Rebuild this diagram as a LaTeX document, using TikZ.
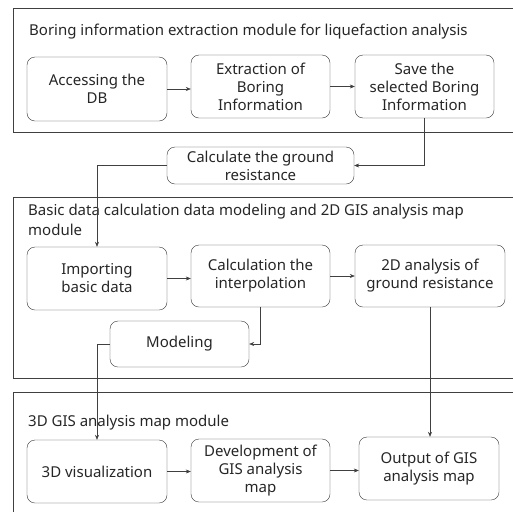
\documentclass[tikz,border=0pt]{standalone}
\usepackage{fontspec}
\setmainfont{Noto Sans}
\usetikzlibrary{arrows.meta}

\begin{document}
\begin{tikzpicture}[x=1pt, y=-1pt,
    stagebox/.style={draw=black!80, rounded corners=8pt, align=center, inner sep=1pt,
        font=\fontsize{15}{18}\selectfont, text=black!85},
    frameline/.style={draw=black!75, line width=0.6pt},
    flow/.style={draw=black!75, line width=0.5pt, -{Stealth[length=5pt, width=4pt]}}]

    \useasboundingbox (0,0) rectangle (513,512);

    % Module frames
    \draw[frameline] (513,8) -- (13,8) -- (13,132) -- (513,132);
    \draw[frameline] (513,197) -- (13,197) -- (13,378) -- (513,378);
    \draw[frameline] (513,392) -- (13,392) -- (13,512);

    % Module titles
    \node[anchor=west, inner sep=0pt, font=\fontsize{15}{18}\selectfont, text=black!85] (t1) at (29,32)
        {Boring information extraction module for liquefaction analysis};
    \node[anchor=north west, inner sep=0pt, align=left, font=\fontsize{15}{20}\selectfont, text=black!85] (t2) at (28,204)
        {Basic data calculation data modeling and 2D GIS analysis map\\module};
    \node[anchor=west, inner sep=0pt, font=\fontsize{15}{18}\selectfont, text=black!85] (t3) at (28,423)
        {3D GIS analysis map module};

    % First module
    \node[stagebox, minimum width=140, minimum height=64] (acc) at (97,89) {Accessing the\\DB};
    \node[stagebox, minimum width=139, minimum height=63] (extr) at (260.5,86.5) {Extraction of\\Boring\\Information};
    \node[stagebox, minimum width=139, minimum height=63] (save) at (424.5,86.5) {Save the\\selected Boring\\Information};

    % Between first and second module
    \node[stagebox, minimum width=187, minimum height=37] (calc) at (260.5,165.5) {Calculate the ground\\resistance};

    % Second module
    \node[stagebox, minimum width=140, minimum height=63] (imp) at (97,278.5) {Importing\\basic data};
    \node[stagebox, minimum width=139, minimum height=62] (interp) at (260.5,276) {Calculation the\\interpolation};
    \node[stagebox, minimum width=150, minimum height=62] (anal) at (430,276) {2D analysis of\\ground resistance};
    \node[stagebox, minimum width=139, minimum height=46] (model) at (179.5,344) {Modeling};

    % Third module
    \node[stagebox, minimum width=140, minimum height=63] (vis) at (97,471.5) {3D visualization};
    \node[stagebox, minimum width=139, minimum height=63] (dev) at (260.5,470.5) {Development of\\GIS analysis\\map};
    \node[stagebox, minimum width=140, minimum height=63] (out) at (429,468.5) {Output of GIS\\analysis map};

    % Connectors
    \draw[flow] (acc.east) -- (acc.east -| extr.west);
    \draw[flow] (extr) -- (save);
    \draw[flow] (save.south) |- (calc.east);
    \draw[flow] (calc.west) -| (imp.north);
    \draw[flow] (imp.east) -- (imp.east -| interp.west);
    \draw[flow] (interp) -- (anal);
    \draw[flow] (interp.south) |- (model.east);
    \draw[flow] (model.west) -| (vis.north);
    \draw[flow] (anal.south) -- (anal.south |- out.north);
    \draw[flow] (vis.east) -- (vis.east -| dev.west);
    \draw[flow] (dev.east) -- (dev.east -| out.west);
\end{tikzpicture}
\end{document}
